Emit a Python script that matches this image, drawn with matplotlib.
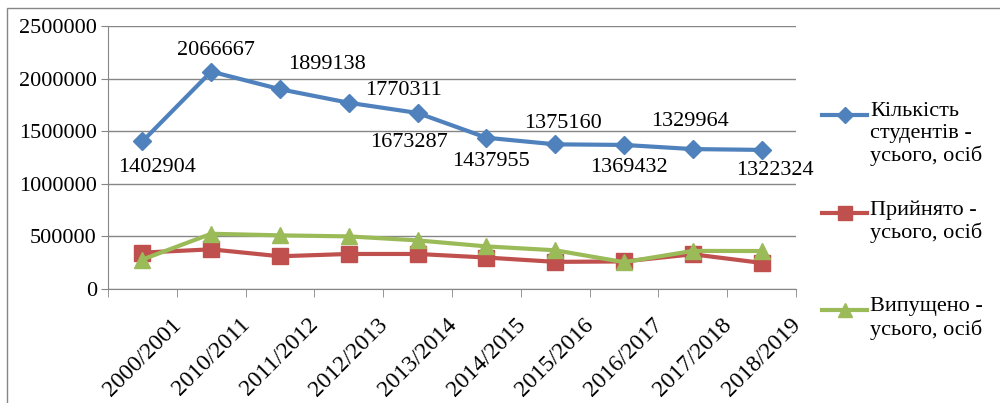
import matplotlib.pyplot as plt
import matplotlib.lines as mlines
import matplotlib.patches as mpatches
import matplotlib.transforms as mtransforms
import numpy as np

# Data
years = ['2000/2001', '2010/2011', '2011/2012', '2012/2013', '2013/2014',
         '2014/2015', '2015/2016', '2016/2017', '2017/2018', '2018/2019']
students = [1402904, 2066667, 1899138, 1770311, 1673287,
            1437955, 1375160, 1369432, 1329964, 1322324]
admitted = [346000, 377000, 311000, 333000, 333000,
            299000, 258000, 262000, 330000, 248000]
graduated = [280000, 525000, 510000, 500000, 462000,
             405000, 368000, 255000, 362000, 361000]

legend_labels = ['Кількість\nстудентів -\nусього, осіб',
                 'Прийнято -\nусього, осіб',
                 'Випущено -\nусього, осіб']

# label offsets (pixels) for the data labels of the first series
label_offsets = [(15, -26), (5, 21), (47, 25), (55, 12), (-9, -30),
                 (5, -24), (8, 21), (5, -23), (-3, 28), (13, -21)]

plt.rcParams['font.family'] = ['Liberation Serif', 'DejaVu Serif']

W, H = 1000, 403
fig = plt.figure(figsize=(W / 100, H / 100), dpi=100)
ax = fig.add_axes([108 / W, 1 - 289 / H, 688 / W, 263 / H])

blue = '#4F81BD'
red = '#C0504D'
green = '#9BBB59'
gray = '#868686'

x = np.arange(len(years))
ax.plot(x, students, color=blue, lw=3, marker='D', ms=9, zorder=3)
ax.plot(x, admitted, color=red, lw=3, marker='s', ms=11, zorder=3)
ax.plot(x, graduated, color=green, lw=3, marker='^', ms=12, zorder=4)

for xi, v, (dx, dy) in zip(x, students, label_offsets):
    ax.annotate(str(v), (xi, v), xytext=(dx, dy), textcoords='offset pixels',
                ha='center', va='center', fontsize=16)

ax.set_xlim(-0.5, len(years) - 0.5)
ax.set_ylim(0, 2500000)
ax.set_yticks(np.arange(0, 2500001, 500000))
ax.set_yticklabels([str(v) for v in range(0, 2500001, 500000)], fontsize=16)
ax.yaxis.grid(True, color=gray, lw=1)
ax.set_axisbelow(True)

ax.set_xticks(x)
ax.set_xticklabels(years, rotation=45, ha='center', va='top', fontsize=17)
shift = mtransforms.ScaledTranslation(-10 / 100, 0, fig.dpi_scale_trans)
for lbl in ax.get_xticklabels():
    lbl.set_transform(lbl.get_transform() + shift)
ax.set_xticks(np.arange(-0.5, len(years)), minor=True)
ax.tick_params(axis='x', which='major', length=0, pad=18)
ax.tick_params(axis='x', which='minor', length=6, color=gray, direction='out')
ax.tick_params(axis='y', length=5, color=gray, pad=3)

for s in ['top', 'right']:
    ax.spines[s].set_visible(False)
for s in ['left', 'bottom']:
    ax.spines[s].set_color(gray)

# legend drawn in figure pixels (Excel-style: marker aligned to first line)
legend_y = [115, 213, 310]
for lab, col, mk, ms, ly in zip(legend_labels, [blue, red, green],
                                ['D', 's', '^'], [8, 10, 10], legend_y):
    fy = 1 - ly / H
    fig.add_artist(mlines.Line2D([822 / W, 867 / W], [fy, fy], color=col,
                                 lw=3, transform=fig.transFigure))
    fig.add_artist(mlines.Line2D([844.5 / W], [fy], color=col, marker=mk,
                                 ms=ms, transform=fig.transFigure))
    fig.text(870 / W, 1 - (ly - 13) / H, lab, ha='left', va='top',
             fontsize=16, linespacing=1.2)

# outer chart border
fig.add_artist(mpatches.Rectangle((7 / W, -0.1), 1.2, 1 - 8 / H + 0.1,
                                  fill=False, edgecolor=gray, lw=1,
                                  transform=fig.transFigure))

fig.savefig('out.png', dpi=100)
